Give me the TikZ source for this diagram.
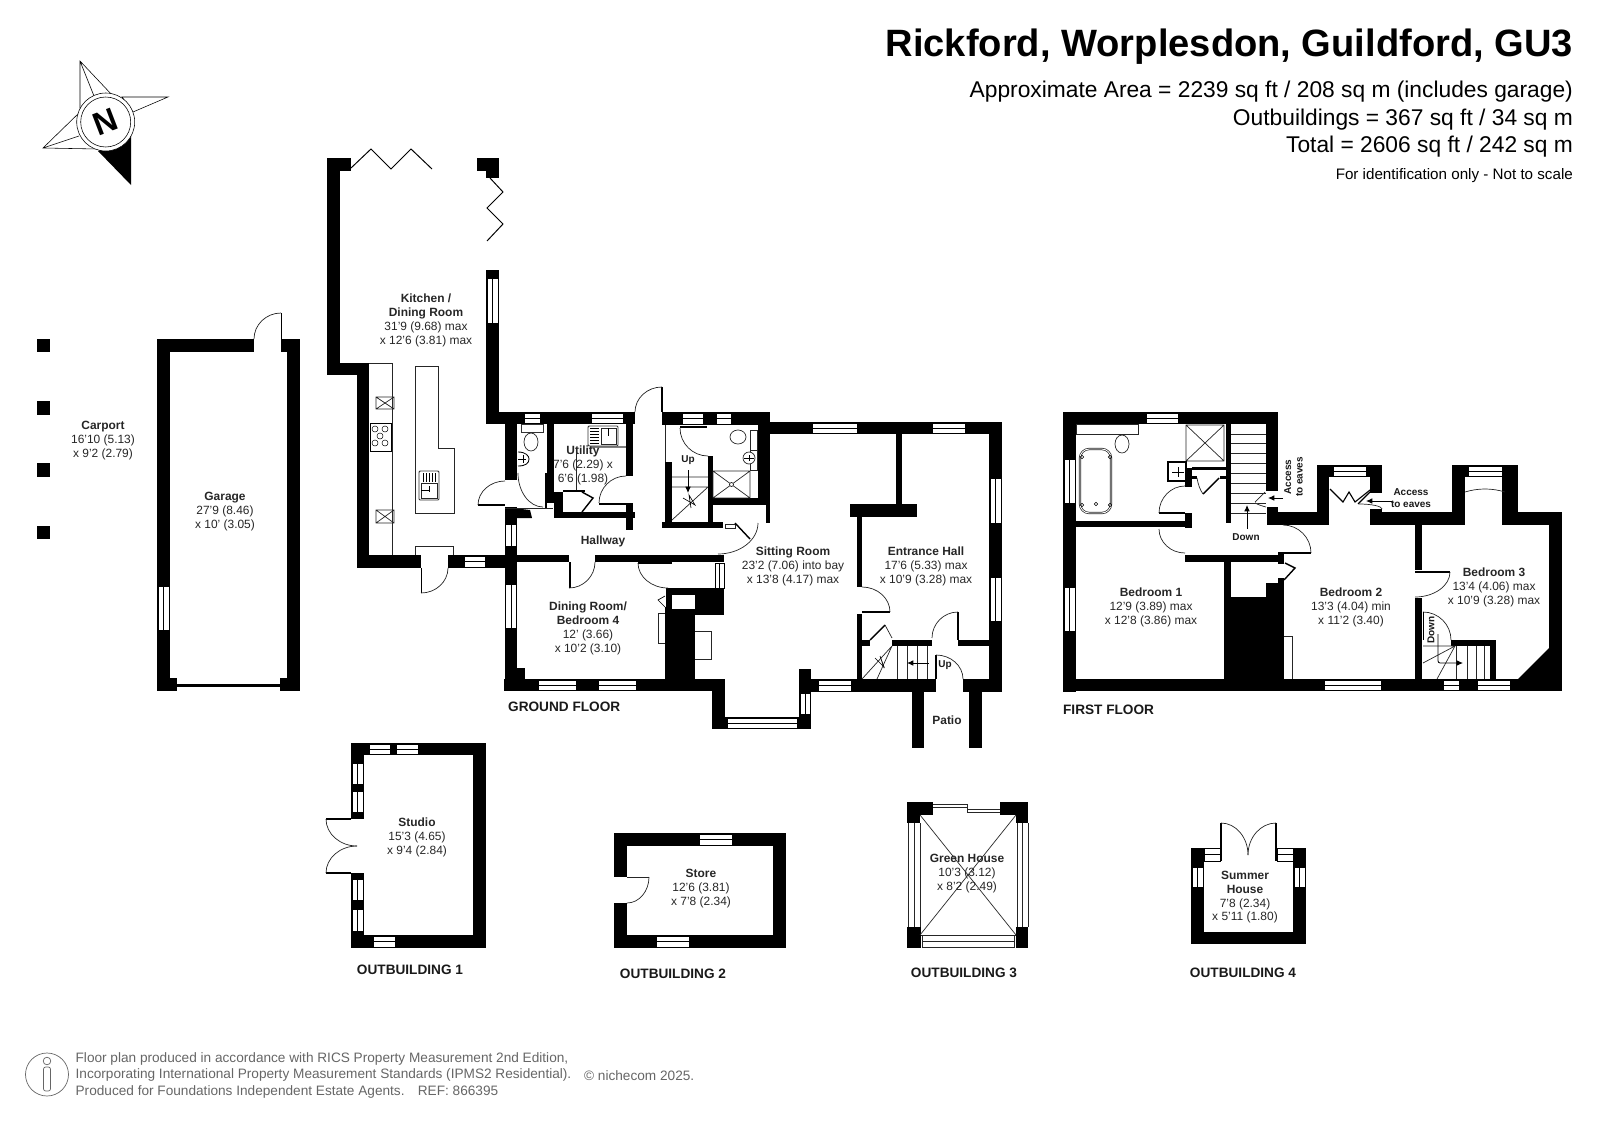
\documentclass[tikz,border=0pt]{standalone}
\usepackage{fontspec}
\setmainfont{Liberation Sans}
\newcommand\wl[4]{\fill[black] (#1,#2) rectangle (#3,#4);}
\newcommand\wh[4]{\filldraw[fill=white,draw=black,line width=.8pt] (#1,#2) rectangle (#3,#4); \draw[line width=.8pt] (#1,{(#2+#4)/2}) -- (#3,{(#2+#4)/2});}
\newcommand\wv[4]{\filldraw[fill=white,draw=black,line width=.8pt] (#1,#2) rectangle (#3,#4); \draw[line width=.8pt] ({(#1+#3)/2},#2) -- ({(#1+#3)/2},#4);}
\newcommand\arcv[4]{\draw[thinl] (#1,#2) .. controls (#1,{#2+0.55*(#4-#2)}) and ({#3-0.55*(#3-#1)},#4) .. (#3,#4);}
\newcommand\arch[4]{\draw[thinl] (#1,#2) .. controls ({#1+0.55*(#3-#1)},#2) and (#3,{#4-0.55*(#4-#2)}) .. (#3,#4);}
\newcommand\xbox[4]{\draw[thinl] (#1,#2) rectangle (#3,#4) (#1,#2) -- (#3,#4) (#1,#4) -- (#3,#2);}
\tikzset{
 thinl/.style={line width=1pt,draw=black!85},
 leaf/.style={line width=2pt,draw=black},
 arr/.style={line width=1.2pt,-{Latex[length=9pt,width=8pt]}},
 lbl/.style={align=center,font=\fontsize{17}{19.5}\selectfont,inner sep=0pt,text=black!85,yshift=-2pt},
 smallb/.style={align=center,font=\fontsize{14.2}{17}\selectfont\bfseries,inner sep=0pt,text=black!90},
 floorl/.style={font=\fontsize{19.4}{22}\selectfont\bfseries,inner sep=0pt,text=black!90,yshift=-1.2pt},
 info/.style={anchor=east,inner sep=0pt,yshift=-2.5pt},
 foot/.style={anchor=west,inner sep=0pt,text=black!60,font=\fontsize{19.4}{22}\selectfont,yshift=-2pt},
}
\usetikzlibrary{arrows.meta}
\begin{document}
\begin{tikzpicture}[x=0.05cm,y=-0.05cm]
\useasboundingbox (0,0) rectangle (1600,1131);
% ---------- headings
\node[info,font=\fontsize{54.2}{60}\selectfont\bfseries] (title) at (1573,45) {Rickford, Worplesdon, Guildford, GU3};
\node[info,font=\fontsize{32.4}{36}\selectfont] (area) at (1573,90) {Approximate Area = 2239 sq ft / 208 sq m (includes garage)};
\node[info,font=\fontsize{32.4}{36}\selectfont] (outb) at (1573,118) {Outbuildings = 367 sq ft / 34 sq m};
\node[info,font=\fontsize{32.4}{36}\selectfont] (total) at (1573,145) {Total = 2606 sq ft / 242 sq m};
\node[info,font=\fontsize{21.6}{26}\selectfont] (ident) at (1573,174) {For identification only - Not to scale};
% ---------- compass
\draw[line width=.8pt,fill=white] (80,61) -- (80,108) -- (113,96) -- cycle (80,61) -- (94,96);
\draw[line width=.8pt,fill=white] (168,97) -- (122,97) -- (133,112) -- cycle;
\draw[line width=.8pt,fill=white] (43,148) -- (80,112) -- (98,149) -- cycle (43,148) -- (79,136);
\fill[black] (131,185) -- (131,136) -- (98,151) -- cycle;
\draw[line width=.8pt,fill=white] (105.7,122) circle (29);
\draw[line width=.8pt] (105.7,122) circle (25);
\node[rotate=21,font=\fontsize{46}{46}\selectfont\bfseries,inner sep=0pt] (north) at (105.7,122) {N};
% ---------- carport columns
\wl{37}{339}{50}{352}\wl{37}{401}{50}{415}\wl{37}{463}{50}{477}\wl{37}{526}{50}{539}
% ---------- garage
\wl{157}{339}{170}{691}\wl{287}{339}{300}{691}\wl{157}{339}{254}{352}\wl{281}{339}{300}{352}
\wl{157}{678}{177}{691}\wl{280}{678}{300}{691}\wl{177}{684}{280}{687}
\wv{158}{586}{169}{630}
\wl{280.5}{313}{282}{339}\arch{281}{313}{254}{339}
% ---------- kitchen shell
\wl{327}{158}{340}{375}\wl{327}{158}{351}{171}\wl{327}{363}{369}{375}\wl{357}{363}{369}{568}
\wl{477}{158}{499}{171}\wl{486}{158}{499}{178}
\wl{486}{270}{499}{424}\wv{487}{278}{498}{323}
\draw[line width=1.4pt] (351,168) -- (371,149) -- (391,169) -- (411,149) -- (432,169);
\draw[line width=1.4pt] (490,178) -- (503,192) -- (487,208) -- (503,224) -- (487,241);
\wl{357}{555}{421}{568}\wl{448}{555}{505}{568}\wh{464}{556}{485}{567}
\wl{420.5}{568}{422}{593}\arch{421}{593}{448}{568}
% units
\draw[thinl] (369,363) -- (392,363) -- (392,555);
\draw[thinl] (415,366) -- (438,366) -- (438,448) -- (454,448) -- (454,513) -- (415,513) -- cycle;
\draw[thinl] (415,555) -- (415,546) -- (453,546) -- (453,555);
\xbox{376}{397}{394}{409}\xbox{376}{510}{394}{523}
\filldraw[fill=white,draw=black,line width=1.2pt] (370,423) rectangle (391,451);
\foreach \cx/\cy in {375/429,385/429,380/436,375/443,385/443}{\draw[line width=.7pt] (\cx,\cy) circle (3);}
\filldraw[fill=white,draw=black!80,line width=1.4pt,rounded corners=1.5pt] (419,471) rectangle (439,500);
\draw[thinl] (421,483) rectangle (437,498);
\foreach \lx in {423,426,429,432,435}{\draw[line width=.8pt] (\lx,473) -- (\lx,482);}
\draw[line width=1pt] (421,490) -- (429,490) (429,486) -- (429,492);
% ---------- rear wing walls
\wl{487}{412}{635}{424}\wh{524}{413}{540}{423}\wh{591}{413}{623}{423}
\wl{505}{424}{517}{480}\wl{505}{507}{517}{691}
\fill[black] (505,507) -- (530,510) -- (532,518) -- (505,518) -- cycle;
\wv{505.5}{524}{516.5}{546}\wv{505.5}{584}{516.5}{628}
\wl{547}{424}{554}{503}\wl{554}{492}{563}{518}\wl{555}{512}{635}{518}\wl{563}{490}{585}{492}
\wl{626}{424}{633}{476}\wl{626}{503}{633}{530}
\wl{599}{502.5}{626}{504.5}\arcv{599}{503}{626}{476}
\draw[line width=2pt] (582,492) -- (593,498) -- (582,512);
\draw[thinl] (576,453) -- (576,490);
\draw[line width=2pt] (546,473) -- (546,508);
\draw[thinl] (505,508) -- (553,508);
\wl{478}{504}{505}{506}\arcv{478}{505}{505}{481}
\arcv{518}{473}{543}{507}
% WC fittings
\filldraw[fill=white,draw=black!80,line width=1pt] (521,424) rectangle (543,432);
\draw[thinl] (531,442) ellipse (7 and 9);
\draw[line width=1.2pt] (518,452) .. controls (526,452) and (529,456) .. (529,459) .. controls (529,463) and (526,466) .. (518,466);
\draw[line width=1pt] (518,459) -- (526,459) (523,455) -- (523,463);
% Utility sink
\draw[line width=2pt,draw=black!50] (590,447) -- (626,447);
\filldraw[fill=white,draw=black!80,line width=1.4pt,rounded corners=1.5pt] (588,426) rectangle (618,446);
\draw[thinl] (601,428) rectangle (616,444);
\foreach \lx in {428,431,434,437,440,443}{\draw[line width=.8pt] (590,\lx) -- (599,\lx);}
\draw[line width=1pt] (608,428) -- (608,436);
% ---------- hall / dining
\wl{505}{555}{569}{562}\wl{595}{555}{724}{562}
\wl{568.5}{562}{570.5}{588}\arch{569}{588}{595}{562}
\wl{504}{679}{724}{691}\wh{538}{680}{576}{690}\wh{598}{680}{636}{690}
\wl{517}{668}{524.5}{679}
% chimney
\wl{666}{588}{724}{615}\wl{665}{607}{695}{679}
\fill[white] (672,595) rectangle (695,609);
\filldraw[fill=white,draw=black,line width=1pt] (665,596) -- (658,600) -- (665,607);
\draw[thinl] (665,613) -- (658,613) -- (658,643) -- (665,643);
\draw[thinl] (695,631) -- (711,631) -- (711,659) -- (695,659);
\filldraw[fill=white,draw=black,line width=1pt] (715,563) rectangle (724,588);
\draw[line width=1pt] (719.5,563) -- (719.5,588);
\wl{638}{562}{672}{564}\arcv{638}{563}{668}{588}
% ---------- back stairs and shower room
\wl{662}{412}{770}{425}\wh{682}{413}{703}{424}\wh{716}{413}{731}{424}
\wl{661}{387}{663}{412}\arch{662}{387}{635}{412}
\draw[thinl] (665,425) -- (665,462);
\wl{665}{462}{672}{522}\wl{662}{522}{723}{528}
\wl{708}{456}{713}{528}\wl{708}{498}{770}{505}\wl{758}{412}{770}{505}
\wl{766}{505}{770}{523}
\wl{680}{426}{707}{428}\arcv{680}{428}{708}{456}
\draw[thinl] (672,477) -- (708,477) (672,487) -- (708,487) (708,487) -- (672,520);
\draw[arr] (688,470) -- (688,493);
\draw[line width=.9pt] (683,498) -- (695,505) -- (689,495) -- (691,508);
% shower room fittings
\draw[thinl] (738,437) ellipse (8 and 7);
\draw[thinl,fill=white] (750,430) rectangle (757,450);
\draw[thinl,fill=white] (750,450) rectangle (757,470);
\draw[thinl,fill=white] (749,458) circle (6);
\draw[line width=1pt] (744,458) -- (754,458) (749,455) -- (749,461);
\xbox{713}{471}{750}{498}
\draw[thinl,fill=white] (731.5,484.5) circle (2);
\draw[thinl,fill=white] (725,524) rectangle (735,528);
\arch{718}{554}{758}{523}
\draw[line width=2pt] (735,523) -- (750,539);
% ---------- sitting room / entrance hall
\wl{770}{422}{1002}{434}\wh{812}{423}{857}{433}\wh{932}{423}{965}{433}
\wl{989}{422}{1002}{692}\wv{990}{478}{1001}{523}\wv{990}{577}{1001}{621}
\wl{896}{434}{902}{504}\wl{850}{504}{917}{517}\wl{857}{517}{862}{587}\wl{857}{614}{862}{692}
\wl{862}{611}{890}{613}\arch{862}{587}{890}{612}
\wl{712}{679}{725}{729}\wl{712}{717}{811}{729}\wh{727}{718}{797}{728}
\wl{799}{669}{811}{729}\wv{800}{693}{810}{714}
\wl{811}{679}{936}{692}\wl{963}{679}{1002}{692}\wh{818}{680}{851}{691}
\wl{912}{692}{924}{748}\wl{969}{692}{982}{748}
\wl{857}{640}{870}{646}\wl{892}{640}{932}{646}\wl{958}{640}{989}{646}
\draw[line width=2pt] (870,640) -- (885,625);
\draw[thinl] (885,625) -- (892,638);
\wl{957}{612}{959}{640}\arch{958}{612}{932}{638}
\wl{935}{655}{937}{679}\arch{936}{655}{963}{679}
\draw[thinl] (897,646) -- (897,679) (907,646) -- (907,679) (917,646) -- (917,679) (927,646) -- (927,679);
\draw[thinl] (892,646) -- (862,679) (892,646) -- (877,679);
\draw[arr] (929,663) -- (907,663);
\draw[line width=.9pt] (875,658) -- (884,667) -- (880,656) -- (884,668);
% ---------- first floor
\wl{1063}{412}{1278}{424}\wh{1146}{413}{1178}{423}
\wl{1063}{412}{1076}{692}\wv{1064}{459}{1075}{503}\wv{1064}{587}{1075}{631}
\wl{1063}{679}{1562}{691}\wh{1324}{680}{1381}{690}\wh{1443}{680}{1459}{690}\wh{1477}{680}{1510}{690}
\wl{1549}{512}{1562}{691}\fill[black] (1549,648) -- (1549,680) -- (1517,680) -- cycle;
\wl{1506}{512}{1562}{525}\wl{1452}{465}{1465}{525}\wl{1502}{465}{1518}{525}\wl{1452}{465}{1518}{477}
\wh{1468}{466}{1502}{476}
\wl{1370}{512}{1465}{525}
\draw[thinl] (1465,492) .. controls (1478,488) and (1492,488) .. (1505,492);
\wl{1317}{465}{1329}{525}\wl{1317}{465}{1382}{477}\wh{1333}{466}{1366}{476}
\wl{1370}{465}{1382}{493}\wl{1370}{509}{1382}{525}
\wl{1278}{512}{1329}{525}\wl{1267}{507}{1278}{525}\wl{1266}{412}{1278}{491}
\wl{1226}{424}{1231}{523}
\foreach \ty in {434,443,453,463,473,483,493,503,513}{\draw[thinl] (1231,\ty) -- (1266,\ty);}
\draw[arr] (1247,529) -- (1247,505);
\draw[thinl,fill=white] (1255,502) -- (1265,492) (1255,503) .. controls (1259,505) and (1262,506) .. (1266,507);
\draw[arr] (1283,498) -- (1268,498);
% bathroom
\draw[thinl] (1076,424) rectangle (1138,434);
\draw[thinl] (1122,444) ellipse (7 and 9);
\draw[thinl,double=white,double distance=1.2pt,rounded corners=13pt] (1080,449) rectangle (1111,513);
\foreach \cx/\cy in {1082/457,1110/457,1082/505,1110/505}{\draw[line width=.8pt] (\cx,\cy) circle (1.8);}
\draw[line width=.8pt] (1096,504) circle (1.8);
\xbox{1186}{425}{1224}{461}
\draw[line width=1.8pt,fill=white] (1168,462) rectangle (1186,481);
\draw[line width=1pt] (1172,472) -- (1184,472) (1178,467) -- (1178,477);
\wl{1185}{468}{1192}{487}\wl{1192}{467}{1226}{470}\wl{1192}{476}{1197}{479}\wl{1220}{476}{1226}{479}
\draw[thinl] (1197,478) .. controls (1198,484) and (1200,490) .. (1203,494);
\draw[line width=2pt] (1203,494) -- (1219,478);
\wl{1185}{513}{1192}{528}\wl{1076}{521}{1185}{527}
\wl{1159}{512}{1185}{514}\arcv{1159}{513}{1185}{486}
\arcv{1159}{529}{1185}{553}
\wl{1185}{555}{1284}{562}\wl{1278}{552}{1284}{564}
\arch{1283}{525}{1311}{553}\wl{1284}{552}{1311}{554}
\wl{1224}{562}{1231}{600}\wl{1224}{597}{1284}{679}\wl{1266}{583}{1284}{597}\wl{1278}{578}{1284}{583}
\draw[line width=2pt] (1285,563) -- (1295,568) -- (1284,580);
\draw[thinl] (1292,679) -- (1292,636) -- (1284,636);
\wl{1415}{525}{1422}{570}\wl{1415}{571}{1450}{573}\arcv{1450}{572}{1415}{597}
\wl{1415}{598}{1422}{679}
\arch{1423}{612}{1451}{640}\draw[line width=1.4pt] (1423,612) -- (1423,640);
\wl{1451}{640}{1496}{646}\wl{1490}{640}{1496}{679}
\draw[thinl] (1456,646) -- (1456,679) (1467,646) -- (1467,679) (1476,646) -- (1476,679) (1484,646) -- (1484,679);
\draw[thinl] (1423,646) -- (1455,646) (1455,646) -- (1423,663) (1455,646) -- (1437,679);
\draw[arr,rounded corners=3pt] (1438,634) -- (1438,663) -- (1463,663);
% dormer bifold
\draw[line width=1.6pt] (1330,489) -- (1343,502) -- (1349,492) -- (1355,502) -- (1370,490);
\draw[line width=1.6pt] (1358,504) -- (1371,491);
\arch{1359}{504}{1382}{509}
\draw[arr] (1392,501) -- (1366,501);
% ---------- outbuilding 1
\wl{351}{743}{486}{755}\wl{473}{743}{486}{948}\wl{351}{935}{486}{948}\wl{351}{743}{364}{819}\wl{351}{873}{364}{948}
\wh{369}{744}{390}{754}\wh{396}{744}{418}{754}\wh{373}{936}{395}{947}
\wv{352}{763}{363}{784}\wv{352}{791}{363}{812}\wv{352}{879}{363}{900}\wv{352}{909}{363}{931}
\wl{326}{818}{351}{820}\wl{326}{872}{351}{874}
\arcv{326}{819}{357}{846}\arcv{326}{873}{357}{846}
% ---------- outbuilding 2
\wl{614}{833}{786}{846}\wl{773}{833}{786}{948}\wl{614}{935}{786}{948}\wl{614}{833}{627}{877}\wl{614}{903}{627}{948}
\wh{699}{834}{732}{845}\wh{656}{936}{689}{947}
\draw[thinl] (627,877) -- (649,877);
\arcv{649}{877}{627}{903}
% ---------- outbuilding 3
\wl{907}{802}{933}{815}\wl{907}{802}{920}{823}\wl{1000}{802}{1028}{815}\wl{1016}{802}{1028}{823}
\wl{907}{927}{921}{948}\wl{1016}{927}{1028}{948}
\draw[thinl] (933,804) -- (967,804) (933,807) -- (967,807) (967,804) -- (967,812) (967,809) -- (1000,809) (967,812) -- (1000,812);
\draw[thinl] (908,823) -- (908,927) (914,823) -- (914,927) (920,823) -- (920,927);
\draw[thinl] (1017,823) -- (1017,927) (1022,823) -- (1022,927) (1028,823) -- (1028,927);
\draw[thinl] (921,935) -- (1016,935) (922,941) -- (1014,941) (922,947) -- (1014,947) (922,935) -- (922,948) (1014,935) -- (1014,948);
\draw[thinl] (920,815) -- (1016,935) (1016,815) -- (920,935);
% ---------- outbuilding 4
\wl{1191}{848}{1204}{944}\wl{1293}{848}{1306}{944}\wl{1191}{932}{1306}{944}
\wv{1192}{867}{1203}{887}\wv{1294}{867}{1305}{887}
\wh{1204}{848.5}{1220}{861}\wh{1277}{848.5}{1293}{861}
\wl{1220}{823}{1222}{861}\wl{1275}{823}{1277}{861}
\arch{1221}{823}{1248}{855}\arch{1276}{823}{1248}{855}
% ---------- labels
\node[lbl] (kitchen) at (426,319) {\textbf{Kitchen /}\\\textbf{Dining Room}\\31'9 (9.68) max\\x 12'6 (3.81) max};
\node[lbl] (carport) at (103,439) {\textbf{Carport}\\16'10 (5.13)\\x 9'2 (2.79)};
\node[lbl] (garage) at (225,510) {\textbf{Garage}\\27'9 (8.46)\\x 10' (3.05)};
\node[lbl] (utility) at (583,464) {\textbf{Utility}\\7'6 (2.29) x\\6'6 (1.98)};
\node[lbl] (hallway) at (603,540) {\textbf{Hallway}};
\node[lbl] (dining) at (588,627) {\textbf{Dining Room/}\\\textbf{Bedroom 4}\\12' (3.66)\\x 10'2 (3.10)};
\node[lbl] (sitting) at (793,565) {\textbf{Sitting Room}\\23'2 (7.06) into bay\\x 13'8 (4.17) max};
\node[lbl] (entrance) at (926,565) {\textbf{Entrance Hall}\\17'6 (5.33) max\\x 10'9 (3.28) max};
\node[lbl] (patio) at (947,719) {\textbf{Patio}};
\node[smallb] (upa) at (688,460) {Up};
\node[smallb] (upb) at (945,665) {Up};
\node[lbl] (bedone) at (1151,606) {\textbf{Bedroom 1}\\12'9 (3.89) max\\x 12'8 (3.86) max};
\node[lbl] (bedtwo) at (1351,606) {\textbf{Bedroom 2}\\13'3 (4.04) min\\x 11'2 (3.40)};
\node[lbl] (bedthree) at (1494,586) {\textbf{Bedroom 3}\\13'4 (4.06) max\\x 10'9 (3.28) max};
\node[smallb] (downa) at (1246,537) {Down};
\node[smallb,rotate=90] (downb) at (1431,630) {Down};
\node[smallb,rotate=90] (acca) at (1293.5,477) {Access\\[-0.5pt]to eaves};
\node[smallb] (accb) at (1411,498) {Access\\[-0.5pt]to eaves};
\node[lbl] (studio) at (417,836) {\textbf{Studio}\\15'3 (4.65)\\x 9'4 (2.84)};
\node[lbl] (store) at (701,887) {\textbf{Store}\\12'6 (3.81)\\x 7'8 (2.34)};
\node[lbl] (green) at (967,872) {\textbf{Green House}\\10'3 (3.12)\\x 8'2 (2.49)};
\node[lbl] (summer) at (1245,896) {\textbf{Summer}\\\textbf{House}\\7'8 (2.34)\\x 5'11 (1.80)};
\node[floorl,anchor=west] (gf) at (508,706) {GROUND FLOOR};
\node[floorl,anchor=west] (ff) at (1063,709) {FIRST FLOOR};
\node[floorl] (ob1) at (410,969) {OUTBUILDING 1};
\node[floorl] (ob2) at (673,973) {OUTBUILDING 2};
\node[floorl] (ob3) at (964,972) {OUTBUILDING 3};
\node[floorl] (ob4) at (1243,972) {OUTBUILDING 4};
% ---------- footer
\draw[line width=1pt,draw=black!60] (47,1074.5) circle (21.5);
\draw[line width=1pt,draw=black!60] (47,1061) circle (3.8);
\draw[line width=1pt,draw=black!60,rounded corners=3pt] (43.5,1067) rectangle (50.5,1091);
\node[foot] (fa) at (75.5,1058) {Floor plan produced in accordance with RICS Property Measurement 2nd Edition,};
\node[foot] (fb) at (75.5,1074) {Incorporating International Property Measurement Standards (IPMS2 Residential).};
\node[foot] (fc) at (584,1074) {© nichecom 2025.};
\node[foot] (fd) at (75.5,1090.5) {Produced for Foundations Independent Estate Agents.\hspace{.6em} REF: 866395};
\end{tikzpicture}
\end{document}
